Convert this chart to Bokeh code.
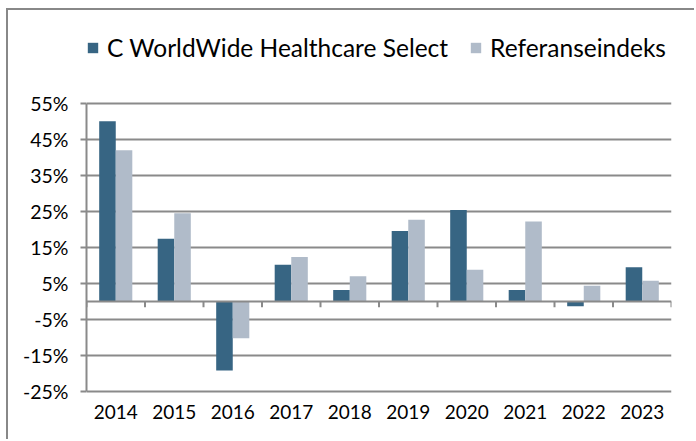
from bokeh.plotting import figure
from bokeh.models import (FactorRange, Range1d, ColumnDataSource, Legend, LegendItem,
                          FixedTicker, Span, NumeralTickFormatter)
from bokeh.transform import dodge
from bokeh.embed import file_html
from bokeh.resources import INLINE

years = ["2014", "2015", "2016", "2017", "2018", "2019", "2020", "2021", "2022", "2023"]
fund = [50.0, 17.4, -19.1, 10.2, 3.2, 19.6, 25.4, 3.2, -1.3, 9.5]
index = [42.0, 24.5, -10.2, 12.4, 7.0, 22.7, 8.8, 22.2, 4.4, 5.8]
y_ticks = [-25, -15, -5, 5, 15, 25, 35, 45, 55]
series_names = ["C WorldWide Healthcare Select", "Referanseindeks"]

DARK = "#376583"
LIGHT = "#B0BBC9"
GRID = "#8a8a8a"
FONT = "Lato"

src = ColumnDataSource(dict(year=years, fund=fund, index=index,
                            zero=[0] * len(years), tick=[-1.6] * len(years)))

p = figure(width=688, height=431, output_backend="svg", toolbar_location=None,
           x_range=FactorRange(*years, range_padding=0), y_range=Range1d(-25.5, 75.2),
           min_border_left=78, min_border_right=25, min_border_bottom=48, min_border_top=20)
p.styles = {"margin-left": "6px", "margin-top": "8px",
            "border-top": "2px solid #888888", "border-left": "2px solid #888888"}
p.outline_line_color = None
p.background_fill_color = "white"

bw = 0.283
r1 = p.vbar(x=dodge("year", -bw / 2, range=p.x_range), top="fund", bottom=0, width=bw,
            source=src, fill_color=DARK, line_color=None)
r2 = p.vbar(x=dodge("year", bw / 2, range=p.x_range), top="index", bottom=0, width=bw,
            source=src, fill_color=LIGHT, line_color=None)

# zero line and category separator ticks
p.add_layout(Span(location=0, dimension="width", line_color=GRID, line_width=2))
p.segment(x0=dodge("year", -0.5, range=p.x_range), x1=dodge("year", -0.5, range=p.x_range),
          y0="zero", y1="tick", source=src, line_color=GRID, line_width=2)
p.segment(x0=dodge("year", 0.5, range=p.x_range), x1=dodge("year", 0.5, range=p.x_range),
          y0="zero", y1="tick", source=ColumnDataSource(dict(year=[years[-1]], zero=[0], tick=[-1.6])),
          line_color=GRID, line_width=2)

# y axis
p.yaxis.ticker = FixedTicker(ticks=y_ticks)
p.yaxis.bounds = (-25, 55)
p.yaxis.formatter = NumeralTickFormatter(format="0")
p.yaxis.major_label_overrides = {t: f"{t}%" for t in y_ticks}
p.yaxis.axis_line_color = GRID
p.yaxis.axis_line_width = 2
p.yaxis.major_tick_line_color = GRID
p.yaxis.major_tick_line_width = 2
p.yaxis.major_tick_out = 6
p.yaxis.major_tick_in = 0
p.yaxis.minor_tick_line_color = None
p.yaxis.major_label_text_font = FONT
p.yaxis.major_label_text_font_size = "19.5px"
p.yaxis.major_label_text_color = "#000000"
p.yaxis.major_label_standoff = 12

p.ygrid.ticker = FixedTicker(ticks=y_ticks)
p.ygrid.grid_line_color = GRID
p.ygrid.grid_line_width = 2
p.xgrid.grid_line_color = None

# x axis
p.xaxis.axis_line_color = None
p.xaxis.major_tick_line_color = None
p.xaxis.minor_tick_line_color = None
p.xaxis.major_label_text_font = FONT
p.xaxis.major_label_text_font_size = "19px"
p.xaxis.major_label_text_color = "#000000"
p.xaxis.major_label_standoff = 5

legend = Legend(items=[LegendItem(label=series_names[0], renderers=[r1]),
                       LegendItem(label=series_names[1], renderers=[r2])],
                orientation="horizontal", location=(0, 331),
                label_text_font=FONT, label_text_font_size="24.5px", label_text_color="#000000",
                glyph_width=13, glyph_height=13, spacing=21, label_standoff=8,
                border_line_color=None, background_fill_alpha=0,
                margin=0, padding=0)
p.add_layout(legend, "center")

open("out.html", "w").write(file_html(p, INLINE))
